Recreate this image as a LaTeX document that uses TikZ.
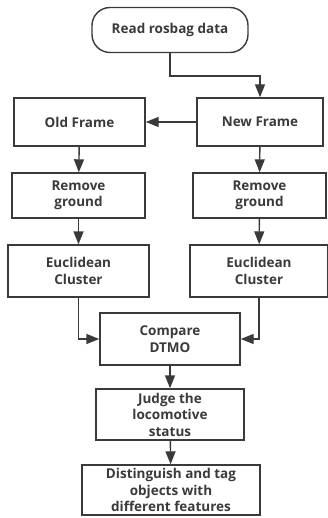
\documentclass[tikz,border=0pt]{standalone}
\usepackage{fontspec}
\setmainfont{Open Sans}
\usetikzlibrary{arrows.meta}
\definecolor{linegray}{HTML}{3A3A3A}
\tikzset{
  box/.style={draw=linegray, line width=1.4pt, align=center, text=linegray,
    font=\bfseries\fontsize{13.5}{16.5}\selectfont, inner sep=0pt},
  startbox/.style={box, rounded corners=18pt},
  flow/.style={draw=linegray, line width=1.4pt, -{Triangle[length=13pt,width=10pt]}}
}
\begin{document}
\begin{tikzpicture}[x=1pt,y=-1pt]
            \useasboundingbox (0,0) rectangle (328,518);
            \node[startbox, minimum width=156pt, minimum height=45pt] (read) at (170,30) {Read rosbag data};

            \node[box, minimum width=131pt, minimum height=48pt] (old) at (79.5,122) {Old Frame};
            \node[box, minimum width=126pt, minimum height=48pt] (new) at (260,122) {New Frame};

            \node[box, minimum width=133pt, minimum height=45pt] (remL) at (78.5,195.5) {Remove\\ground};
            \node[box, minimum width=133pt, minimum height=45pt] (remR) at (259.5,195.5) {Remove\\ground};

            \node[box, minimum width=141pt, minimum height=52pt] (eucL) at (78.5,271) {Euclidean\\Cluster};
            \node[box, minimum width=138pt, minimum height=52pt] (eucR) at (259,271) {Euclidean\\Cluster};

            \node[box, minimum width=140pt, minimum height=52pt] (cmp) at (170,339) {Compare\\DTMO};
            \node[box, minimum width=148pt, minimum height=51pt] (judge) at (170,414.5) {Judge the\\locomotive\\status};
            \node[box, minimum width=178pt, minimum height=50pt] (dist) at (171,490) {Distinguish and tag\\objects with\\different features};

            \draw[flow] (read.south) -- ++(0,23) -| (new.north);
            \draw[flow] (new.west) -- (old.east);
            \draw[flow] (old) -- (remL);
            \draw[flow] (remL) -- (eucL);
            \draw[flow] (new) -- (remR);
            \draw[flow] (remR) -- (eucR);
            \draw[flow] (eucL.south) |- (cmp.west);
            \draw[flow] (eucR.south) |- (cmp.east);
            \draw[flow] (cmp) -- (judge);
            \draw[flow] (judge) -- (dist);
\end{tikzpicture}
\end{document}
